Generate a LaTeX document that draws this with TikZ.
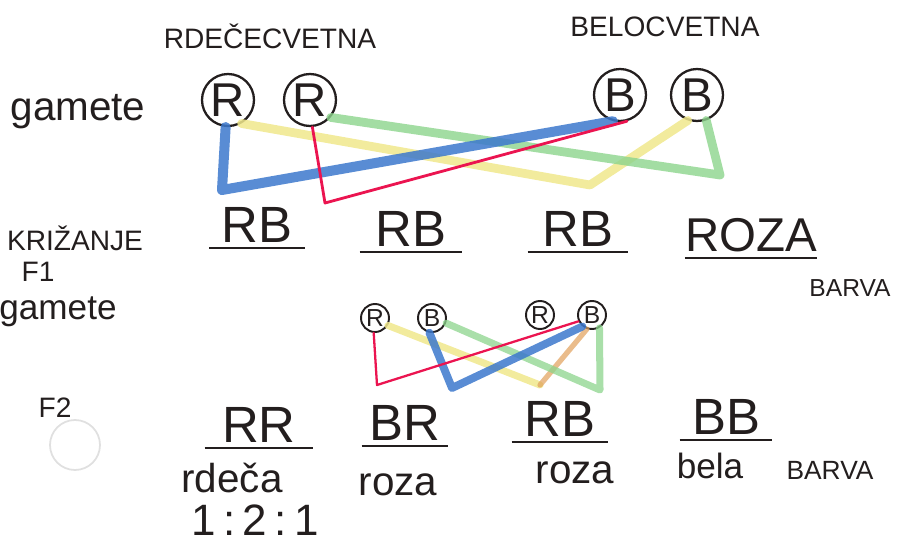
\documentclass[tikz,border=0pt]{standalone}
\usepackage{fontspec}
\setmainfont{Liberation Sans}

\definecolor{ink}{RGB}{35,30,30}
\definecolor{penblue}{RGB}{60,120,205}
\definecolor{penred}{RGB}{235,20,80}
\definecolor{penyellow}{RGB}{240,232,140}
\definecolor{pengreen}{RGB}{140,212,140}
\definecolor{penorange}{RGB}{225,160,90}

\tikzset{
  gene/.style={font=\fontsize{29}{34}\selectfont, text=ink, inner xsep=0pt, inner ysep=3pt, anchor=south},
  allele/.style={circle, draw=ink, line width=1.3pt, minimum size=1.04cm, inner sep=0pt, text=ink, font=\fontsize{27}{32}\selectfont},
  smallallele/.style={circle, draw=ink, line width=1.1pt, minimum size=0.56cm, inner sep=0pt, text=ink, font=\fontsize{14}{16}\selectfont},
  caps/.style={font=\fontsize{16}{19}\selectfont, text=ink},
  hand/.style={font=\fontsize{23}{27}\selectfont, text=ink},
  pen/.style={line join=round, line cap=round},
}

\begin{document}
\begin{tikzpicture}[x=0.02cm, y=-0.02cm]
      \useasboundingbox (0,0) rectangle (903,547);

      % parents
      \node[caps] (rdeca-cv) at (270,36) {RDEČECVETNA};
      \node[caps] (bela-cv) at (665,27) {BELOCVETNA};
      \node[hand] (gam1) at (78,112) {gamete};

      \node[allele] (ra) at (228,100) {R};
      \node[allele] (rb) at (310,100) {R};
      \node[allele] (ba) at (620,95) {B};
      \node[allele] (bb) at (697,95) {B};

      \draw[pen, draw=penyellow, line width=5pt, opacity=.85] (ra.-60) -- (590,185) -- (bb.-110);
      \draw[pen, draw=pengreen, line width=5pt, opacity=.8] (rb.-40) -- (720,175) -- (bb.-70);
      \draw[pen, draw=penblue, line width=5.7pt, opacity=.85] (ra.-95) -- (222,190) -- (ba.-105);
      \draw[pen, draw=penred, line width=1.6pt] (rb.-85) -- (325,203) -- (ba.-75);

      % F1
      \node[caps] (kriz) at (75,238) {KRIŽANJE};
      \node[caps] (f1) at (38,272) {F1};
      \node[hand, font=\fontsize{20}{24}\selectfont] (gam2) at (58,312) {gamete};

      \node[gene, minimum width=1.9cm] (rb1) at (257,248) {RB};
      \node[gene, minimum width=2.04cm] (rb2) at (411,252) {RB};
      \node[gene, minimum width=2cm] (rb3) at (578,252) {RB};
      \node[gene, minimum width=2.26cm, font=\fontsize{27}{32}\selectfont] (roza) at (751,258) {ROZA};
      \foreach \n in {rb1, rb2, rb3, roza}
        \draw[ink, line width=1.6pt] (\n.south west) -- (\n.south east);
      \node[caps, font=\fontsize{14}{17}\selectfont] (barva1) at (850,288) {BARVA};

      \node[smallallele] (rc) at (375,318) {R};
      \node[smallallele] (bc) at (432,318) {B};
      \node[smallallele] (rd) at (540,315) {R};
      \node[smallallele] (bd) at (592,315) {B};

      \draw[pen, draw=penyellow, line width=4pt, opacity=.85] (rc.-30) -- (540,385);
      \draw[pen, draw=penorange, line width=3pt, opacity=.7] (540,385) -- (bd.-110);
      \draw[pen, draw=pengreen, line width=4pt, opacity=.75] (bc.-20) -- (600,390) -- (bd.-60);
      \draw[pen, draw=penblue, line width=4.5pt, opacity=.85] (bc.-100) -- (452,388) -- (bd.-130);
      \draw[pen, draw=penred, line width=1.3pt] (rc.-95) -- (377,385) -- (bd.-155);

      % F2
      \node[caps] (f2) at (55,408) {F2};
      \draw[black!12, fill=white, line width=1pt] (75,445) circle (25);

      \node[gene, minimum width=2.16cm] (rr) at (259,448) {RR};
      \node[gene, minimum width=1.72cm] (br) at (405,446) {BR};
      \node[gene, minimum width=1.92cm] (rbf) at (560,442) {RB};
      \node[gene, minimum width=1.84cm] (bbf) at (726,440) {BB};
      \foreach \n in {rr, br, rbf, bbf}
        \draw[ink, line width=1.6pt] (\n.south west) -- (\n.south east);

      \node[hand] (rdeca) at (232,478) {rdeča};
      \node[hand] (roza1) at (398,485) {roza};
      \node[hand] (roza2) at (575,473) {roza};
      \node[hand, font=\fontsize{20}{24}\selectfont] (bela) at (710,466) {bela};
      \node[caps, font=\fontsize{15}{18}\selectfont] (barva2) at (830,470) {BARVA};

      \node[font=\fontsize{25}{30}\selectfont, text=ink, inner sep=1pt, anchor=base] (ratio) at (255,535) {1\,:\,2\,:\,1};
    \end{tikzpicture}
\end{document}
